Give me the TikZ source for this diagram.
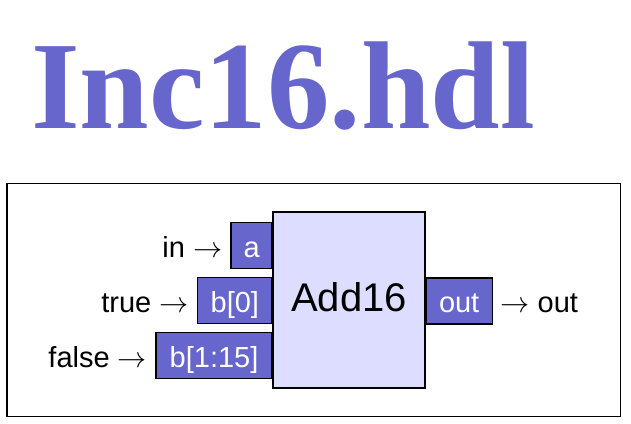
\documentclass[tikz,border=0pt]{standalone}
\usepackage{graphicx}
\usepackage{fontspec}
\setmainfont{Liberation Sans}
\newfontfamily\titlefont{Liberation Serif}
\usetikzlibrary{positioning}
\definecolor{pinblue}{RGB}{102,102,204}
\definecolor{chipfill}{RGB}{221,221,255}
\newcommand{\sigarrow}{\scalebox{1.17}{$\rightarrow$}}
\begin{document}
\begin{tikzpicture}[x=1pt,y=-1pt,
    portbox/.style={draw=black, line width=1.6pt, fill=pinblue, text=white, minimum height=46pt, inner sep=0pt, text height=24pt, text depth=0pt, font=\fontsize{29}{30}\selectfont},
    chipbox/.style={draw=black, line width=1.6pt, fill=chipfill, minimum width=152pt, minimum height=176pt, inner sep=0pt, text height=23.4pt, text depth=0pt, font=\fontsize{40}{42}\selectfont},
    sig/.style={inner sep=0pt, text height=24pt, text depth=0pt, font=\fontsize{29}{30}\selectfont}]
  \useasboundingbox (0,0) rectangle (631,423);
  \node[anchor=base west, inner sep=0pt, text=pinblue, font=\titlefont\bfseries\fontsize{125}{125}\selectfont] (title) at (31,128.3) {Inc16.hdl};
  \draw[line width=1.1pt] (7,183.5) rectangle (620.5,416.5);
  % pins
  \node[portbox, minimum width=41pt, anchor=east] (a) at (273,245.4) {a};
  \node[portbox, minimum width=74.7pt, anchor=east] (b0) at (273,300.3) {b[0]};
  \node[portbox, minimum width=116.3pt, anchor=east] (b115) at (273,355.3) {b[1:15]};
  \node[portbox, minimum width=66.7pt, anchor=west] (outpin) at (425,300.8) {out};
  \node[chipbox] (chip) at (349,300) {Add16\hspace{12pt}};
  % wiring
  \node[sig, base left=8pt of a] (inlbl) {in \sigarrow};
  \node[sig, base left=8pt of b0] (truelbl) {true \sigarrow};
  \node[sig, base left=8pt of b115] (falselbl) {false \sigarrow};
  \node[sig, base right=7pt of outpin] (outlbl) {\sigarrow{} out};
\end{tikzpicture}
\end{document}
